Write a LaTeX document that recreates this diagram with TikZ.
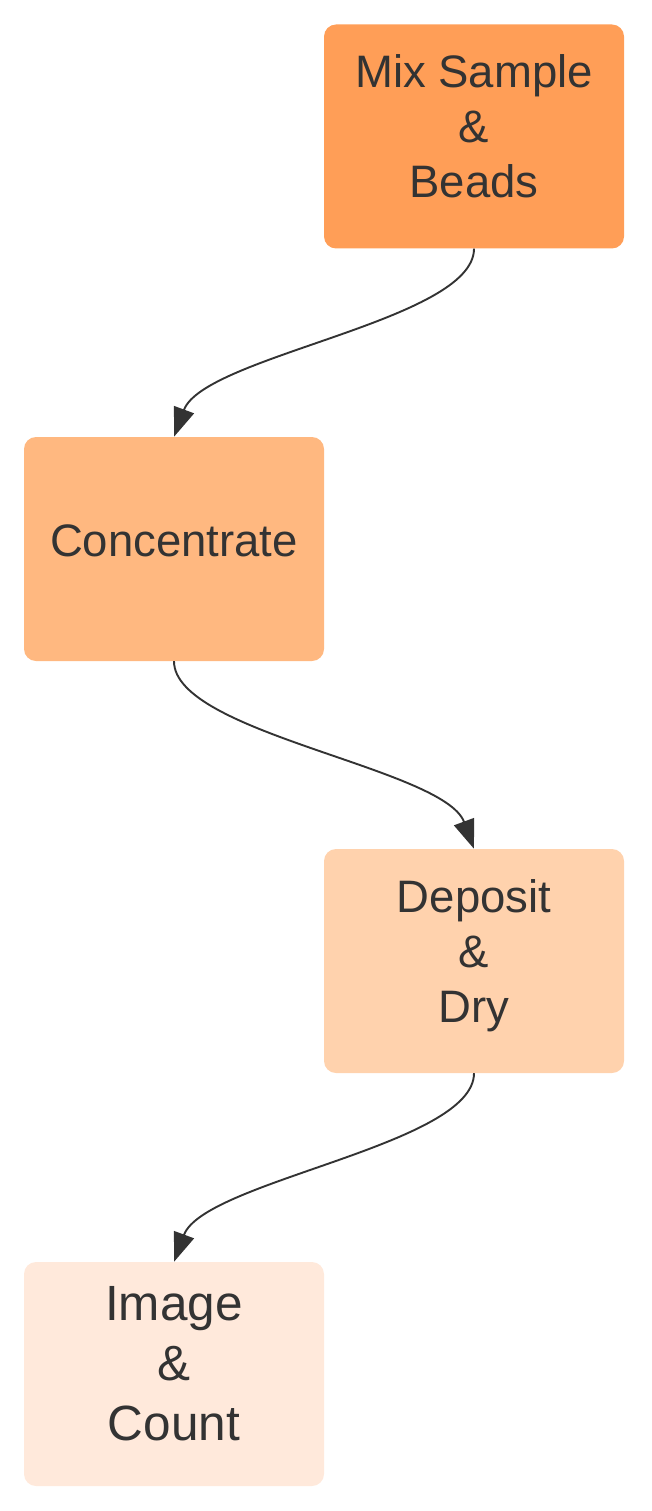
\documentclass[tikz,border=0pt]{standalone}
\usepackage{fontspec}
\setmainfont{Liberation Sans}
\usetikzlibrary{arrows.meta}
\definecolor{cA}{HTML}{FF9E57}
\definecolor{cB}{HTML}{FFB880}
\definecolor{cC}{HTML}{FFD2AD}
\definecolor{cD}{HTML}{FFE9DB}
\definecolor{ink}{HTML}{333333}
\tikzset{
  stagebox/.style={rectangle, rounded corners=12pt, draw=none, minimum width=300pt, minimum height=224pt, inner sep=0pt},
  stagetext/.style={align=center, text=ink, inner sep=0pt, font=\fontsize{45.5}{55}\selectfont},
  bigtext/.style={stagetext, font=\fontsize{49.5}{60}\selectfont},
  flow/.style={draw=ink, line width=1.9pt, -{Triangle[length=29pt,width=21pt]}, fill=none}
}
\begin{document}
\begin{tikzpicture}[x=1pt,y=-1pt]
\useasboundingbox (0,0) rectangle (651,1511);
\node[stagebox, fill=cA] (b1) at (474,136.5) {};
\node[stagebox, fill=cB] (b2) at (174,549) {};
\node[stagebox, fill=cC] (b3) at (474,961) {};
\node[stagebox, fill=cD] (b4) at (174,1374) {};
\node[stagetext] (t1) at ([yshift=5pt]b1.center) {\strut Mix Sample\\\strut \&\\\strut Beads};
\node[stagetext] (t2) at ([yshift=4pt]b2.center) {\strut Concentrate};
\node[stagetext] (t3) at ([yshift=5pt]b3.center) {\strut Deposit\\\strut \&\\\strut Dry};
\node[bigtext] (t4) at ([yshift=6pt]b4.center) {\strut Image\\\strut \&\\\strut Count};
\draw[flow] (b1.south) .. controls +(0,72) and +(30,-81) .. (b2.north);
\draw[flow] (b2.south) .. controls +(0,72) and +(-30,-81) .. (b3.north);
\draw[flow] (b3.south) .. controls +(0,72) and +(30,-81) .. (b4.north);
\end{tikzpicture}
\end{document}
